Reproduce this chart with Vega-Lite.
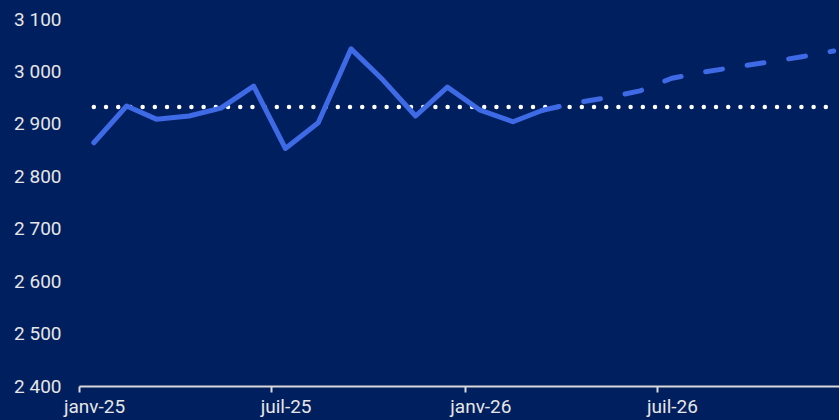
{
  "$schema": "https://vega.github.io/schema/vega-lite/v6.json",
  "width": 760,
  "height": 367,
  "autosize": {"type": "none"},
  "padding": {"left": 79, "top": 19, "right": 0, "bottom": 34},
  "background": "#001F5F",
  "config": {"view": {"stroke": null}, "font": "Roboto"},
  "datasets": {
    "hist": [
      {"date": "2025/01/15", "v": 2864},
      {"date": "2025/02/15", "v": 2934},
      {"date": "2025/03/15", "v": 2909},
      {"date": "2025/04/15", "v": 2915},
      {"date": "2025/05/15", "v": 2930},
      {"date": "2025/06/15", "v": 2972},
      {"date": "2025/07/15", "v": 2853},
      {"date": "2025/08/15", "v": 2902},
      {"date": "2025/09/15", "v": 3043},
      {"date": "2025/10/15", "v": 2984},
      {"date": "2025/11/15", "v": 2915},
      {"date": "2025/12/15", "v": 2970},
      {"date": "2026/01/15", "v": 2926},
      {"date": "2026/02/15", "v": 2904},
      {"date": "2026/03/15", "v": 2926}
    ],
    "proj": [
      {"date": "2026/03/15", "v": 2926},
      {"date": "2026/04/15", "v": 2940},
      {"date": "2026/05/15", "v": 2950},
      {"date": "2026/06/15", "v": 2963},
      {"date": "2026/07/15", "v": 2987},
      {"date": "2026/08/15", "v": 2999},
      {"date": "2026/09/15", "v": 3009},
      {"date": "2026/10/15", "v": 3018},
      {"date": "2026/11/15", "v": 3028},
      {"date": "2026/12/15", "v": 3039}
    ],
    "ref": [
      {"date": "2025/01/15", "v": 2932},
      {"date": "2026/12/15", "v": 2932}
    ]
  },
  "encoding": {
    "x": {
      "field": "date",
      "type": "temporal",
      "scale": {
        "domain": [
          {"year": 2025, "month": "jan", "date": 1},
          {"year": 2026, "month": "dec", "date": 20}
        ],
        "nice": false
      },
      "axis": {
        "title": null,
        "grid": false,
        "values": [
          {"year": 2025, "month": "jan", "date": 1},
          {"year": 2025, "month": "jul", "date": 1},
          {"year": 2026, "month": "jan", "date": 1},
          {"year": 2026, "month": "jul", "date": 1}
        ],
        "labelExpr": "(month(datum.value) == 0 ? 'janv' : 'juil') + '-' + timeFormat(datum.value, '%y')",
        "domainColor": "#D9D9D9",
        "domainWidth": 2,
        "tickColor": "#D9D9D9",
        "tickWidth": 2,
        "tickSize": 6,
        "labelColor": "#E6E6E6",
        "labelFontSize": 19,
        "labelPadding": 5,
        "labelOffset": 15,
        "labelFlush": false
      }
    },
    "y": {
      "field": "v",
      "type": "quantitative",
      "scale": {"domain": [2400, 3100], "nice": false, "zero": false},
      "axis": {
        "title": null,
        "grid": false,
        "domain": false,
        "ticks": false,
        "tickSize": 0,
        "values": [2400, 2500, 2600, 2700, 2800, 2900, 3000, 3100],
        "labelExpr": "replace(format(datum.value, ','), ',', ' ')",
        "labelColor": "#E6E6E6",
        "labelFontSize": 19,
        "labelPadding": 18
      }
    }
  },
  "layer": [
    {
      "data": {"name": "ref"},
      "mark": {"type": "line", "color": "#FFFFFF", "strokeWidth": 4.5, "strokeCap": "round", "strokeDash": [0, 12.2]}
    },
    {
      "data": {"name": "hist"},
      "mark": {"type": "line", "color": "#3F6AE6", "strokeWidth": 5, "strokeCap": "round", "strokeJoin": "round"}
    },
    {
      "data": {"name": "proj"},
      "mark": {"type": "line", "color": "#3F6AE6", "strokeWidth": 5, "strokeCap": "round", "strokeJoin": "round", "strokeDash": [17, 25]}
    }
  ]
}
